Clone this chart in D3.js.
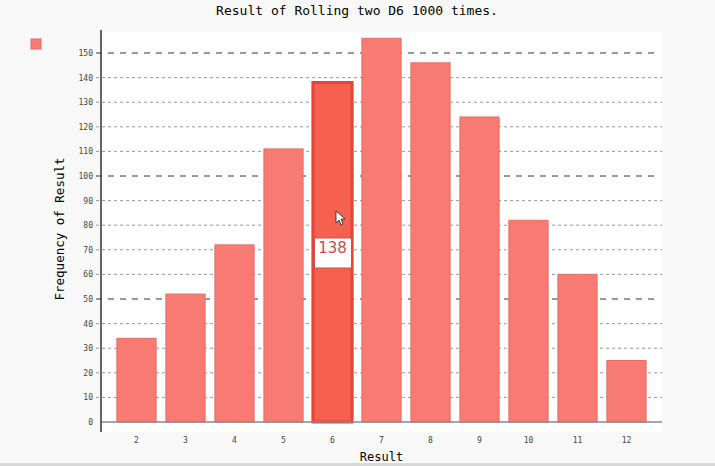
<!DOCTYPE html>
<html><head><meta charset="utf-8">
<script src="https://cdn.jsdelivr.net/npm/d3@7"></script>
<style>
html,body{margin:0;padding:0;background:#f8f8f8;}
svg{display:block;font-family:"DejaVu Sans Mono",monospace;}
</style></head>
<body>
<svg id="chart" width="715" height="466"></svg>
<script>
const title = "Result of Rolling two D6 1000 times.";
const categories = ["2","3","4","5","6","7","8","9","10","11","12"];
const frequencies = [34, 52, 72, 111, 138, 156, 146, 124, 82, 60, 25];
const yTicks = [0,10,20,30,40,50,60,70,80,90,100,110,120,130,140,150];
const majorTicks = [50,100,150];
const highlighted = "6";

const svg = d3.select("#chart");
svg.append("rect").attr("width",715).attr("height",466).attr("fill","#f8f8f8");

const x = d3.scaleBand().domain(categories).range([112,651]).paddingInner(0.2).paddingOuter(0.1);
const y = d3.scaleLinear().domain([0,150]).range([422,53]);

const plotL = 101, plotR = 662, plotT = 32, plotB = 432;
svg.append("rect").attr("x",plotL).attr("y",plotT).attr("width",plotR-plotL).attr("height",plotB-plotT).attr("fill","#ffffff");

// gridlines
svg.append("g").selectAll("line").data(yTicks.filter(d=>d>0)).join("line")
  .attr("x1",96).attr("x2",d=>majorTicks.includes(d)?658:662)
  .attr("y1",d=>y(d)).attr("y2",d=>y(d))
  .attr("stroke",d=>majorTicks.includes(d)?"#333":"#999")
  .attr("stroke-width",1)
  .attr("stroke-dasharray",d=>majorTicks.includes(d)?"6,6":"3,3");

// y tick labels
svg.append("g").selectAll("text").data(yTicks).join("text")
  .attr("x",93).attr("y",d=>y(d)+3)
  .attr("text-anchor","end").attr("font-size",8).attr("fill","#444")
  .text(d=>d);

// bars
const baseFill = "#f77b72";
svg.append("g").selectAll("rect").data(frequencies).join("rect")
  .attr("x",(d,i)=>x(categories[i]))
  .attr("y",d=>y(d))
  .attr("width",x.bandwidth())
  .attr("height",d=>y(0)-y(d))
  .attr("fill",(d,i)=>categories[i]===highlighted?"#f5604f":baseFill)
  .attr("stroke",(d,i)=>categories[i]===highlighted?"#e8423a":"#e66d64")
  .attr("stroke-width",(d,i)=>categories[i]===highlighted?3:1);

// axes
svg.append("line").attr("x1",plotL).attr("x2",plotR).attr("y1",y(0)).attr("y2",y(0))
  .attr("stroke","#888").attr("stroke-width",1.5);
svg.append("line").attr("x1",plotL).attr("x2",plotL).attr("y1",30).attr("y2",plotB)
  .attr("stroke","#333").attr("stroke-width",1.5);

// x labels
svg.append("g").selectAll("text").data(categories).join("text")
  .attr("x",d=>x(d)+x.bandwidth()/2).attr("y",443)
  .attr("text-anchor","middle").attr("font-size",8).attr("fill","#444")
  .text(d=>d);

// title
svg.append("text").attr("x",357).attr("y",15).attr("text-anchor","middle")
  .attr("font-size",13).attr("fill","#000").text(title);

// y title
svg.append("text").attr("transform","translate(64,229) rotate(-90)")
  .attr("text-anchor","middle").attr("font-size",12.5).attr("fill","#000").text("Frequency of Result");

// x title
svg.append("text").attr("x",(plotL+plotR)/2).attr("y",461).attr("text-anchor","middle")
  .attr("font-size",12).attr("fill","#000").text("Result");

// legend
svg.append("rect").attr("x",31).attr("y",39).attr("width",10).attr("height",10)
  .attr("fill",baseFill).attr("stroke","#e66d64").attr("stroke-width",1);

// tooltip
const hi = categories.indexOf(highlighted);
const tx = x(highlighted)+x.bandwidth()/2;
const g = svg.append("g");
g.append("rect").attr("x",tx-18).attr("y",238).attr("width",37).attr("height",30)
  .attr("fill","#ffffff").attr("stroke","#c9514a").attr("stroke-width",1);
g.append("text").attr("x",tx).attr("y",253).attr("text-anchor","middle")
  .attr("font-family","DejaVu Sans, sans-serif").attr("font-size",15).attr("fill","#c0504d")
  .text(frequencies[hi]);

// mouse cursor
svg.append("path").attr("d","M336,211 L336,223 L339,220 L341,225 L343,224 L341,219 L345,219 Z")
  .attr("fill","#fff").attr("stroke","#222").attr("stroke-width",0.8);

// bottom border strip
svg.append("rect").attr("x",0).attr("y",463).attr("width",715).attr("height",3).attr("fill","#d8d8d8");
</script>
</body></html>
